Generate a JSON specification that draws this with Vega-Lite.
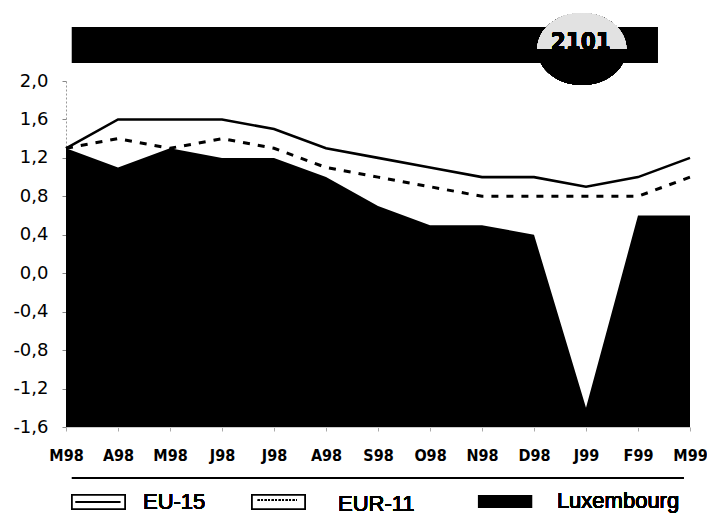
{
  "$schema": "https://vega.github.io/schema/vega-lite/v6.json",
  "width": 624,
  "height": 346,
  "autosize": "none",
  "padding": {"left": 66, "top": 81, "right": 17, "bottom": 90},
  "background": "white",
  "config": {
    "view": {"stroke": null},
    "font": "Liberation Sans",
    "axis": {"grid": false, "title": null, "labelFlush": false, "labelOverlap": false}
  },
  "data": {
    "values": [
      {"idx": 0, "month": "M98", "eu15": 1.3, "eur11": 1.3, "lux": 1.3},
      {"idx": 1, "month": "A98", "eu15": 1.6, "eur11": 1.4, "lux": 1.1},
      {"idx": 2, "month": "M98", "eu15": 1.6, "eur11": 1.3, "lux": 1.3},
      {"idx": 3, "month": "J98", "eu15": 1.6, "eur11": 1.4, "lux": 1.2},
      {"idx": 4, "month": "J98", "eu15": 1.5, "eur11": 1.3, "lux": 1.2},
      {"idx": 5, "month": "A98", "eu15": 1.3, "eur11": 1.1, "lux": 1.0},
      {"idx": 6, "month": "S98", "eu15": 1.2, "eur11": 1.0, "lux": 0.7},
      {"idx": 7, "month": "O98", "eu15": 1.1, "eur11": 0.9, "lux": 0.5},
      {"idx": 8, "month": "N98", "eu15": 1.0, "eur11": 0.8, "lux": 0.5},
      {"idx": 9, "month": "D98", "eu15": 1.0, "eur11": 0.8, "lux": 0.4},
      {"idx": 10, "month": "J99", "eu15": 0.9, "eur11": 0.8, "lux": -1.4},
      {"idx": 11, "month": "F99", "eu15": 1.0, "eur11": 0.8, "lux": 0.6},
      {"idx": 12, "month": "M99", "eu15": 1.2, "eur11": 1.0, "lux": 0.6}
    ]
  },
  "layer": [
    {
      "mark": {"type": "area", "color": "black", "opacity": 1, "interpolate": "linear"},
      "encoding": {
        "x": {
          "field": "idx", "type": "quantitative",
          "scale": {"domain": [0, 12], "nice": false, "zero": false},
          "axis": {
            "values": [0, 1, 2, 3, 4, 5, 6, 7, 8, 9, 10, 11, 12],
            "tickCount": 30,
            "labelExpr": "['M98','A98','M98','J98','J98','A98','S98','O98','N98','D98','J99','F99','M99'][datum.value]",
            "labelFont": "DejaVu Sans Condensed, Liberation Sans",
            "labelFontWeight": "bold",
            "labelFontSize": 16,
            "labelColor": "black",
            "labelPadding": 16,
            "labelOverlap": false,
            "labelFlush": false,
            "tickSize": 4,
            "tickColor": "#aaaaaa",
            "domainColor": "#cccccc",
            "domainWidth": 1
          }
        },
        "y": {
          "field": "lux", "type": "quantitative",
          "scale": {"domain": [-1.6, 2.0], "nice": false, "zero": false},
          "axis": {
            "values": [-1.6, -1.2, -0.8, -0.4, 0, 0.4, 0.8, 1.2, 1.6, 2.0],
            "tickCount": 30,
            "labelExpr": "(datum.value < -0.001 ? '-' : '') + replace(format(abs(datum.value), '.1f'), '.', ',')",
            "labelFont": "DejaVu Sans",
            "labelFontSize": 18,
            "labelColor": "black",
            "labelPadding": 14,
            "labelOverlap": false,
            "labelFlush": false,
            "tickSize": 4,
            "tickColor": "#888888",
            "domainColor": "#999999",
            "domainDash": [2, 2],
            "domainWidth": 1
          }
        },
        "y2": {"datum": -1.6}
      }
    },
    {
      "mark": {"type": "line", "color": "black", "strokeWidth": 2.6},
      "encoding": {
        "x": {"field": "idx", "type": "quantitative", "scale": {"domain": [0, 12], "nice": false, "zero": false}},
        "y": {"field": "eu15", "type": "quantitative", "scale": {"domain": [-1.6, 2.0], "nice": false, "zero": false}}
      }
    },
    {
      "mark": {"type": "line", "color": "black", "strokeWidth": 3, "strokeDash": [7, 8], "strokeCap": "butt"},
      "encoding": {
        "x": {"field": "idx", "type": "quantitative", "scale": {"domain": [0, 12], "nice": false, "zero": false}},
        "y": {"field": "eur11", "type": "quantitative", "scale": {"domain": [-1.6, 2.0], "nice": false, "zero": false}}
      }
    },
    {
      "mark": {"type": "rect", "color": "black"},
      "encoding": {
        "x": {"datum": 0.115, "type": "quantitative"},
        "x2": {"datum": 11.37},
        "y": {"datum": 2.562, "type": "quantitative"},
        "y2": {"datum": 2.187}
      }
    },
    {
      "mark": {"type": "point", "shape": "M-1,0A1,0.81 0 1,0 1,0A1,0.81 0 1,0 -1,0Z", "size": 7921, "filled": true, "color": "black", "opacity": 1, "strokeWidth": 0},
      "encoding": {
        "x": {"datum": 9.92, "type": "quantitative"},
        "y": {"datum": 2.333, "type": "quantitative"}
      }
    },
    {
      "mark": {"type": "point", "shape": "M-1,0A1,0.81 0 0,1 1,0Z", "size": 7921, "filled": true, "color": "#e2e2e2", "opacity": 1, "strokeWidth": 0},
      "encoding": {
        "x": {"datum": 9.92, "type": "quantitative"},
        "y": {"datum": 2.333, "type": "quantitative"}
      }
    },
    {
      "mark": {"type": "text", "text": "2101", "font": "DejaVu Sans Condensed, Liberation Sans", "fontWeight": "bold", "fontSize": 24, "color": "black", "align": "center", "baseline": "middle"},
      "encoding": {
        "x": {"datum": 9.9, "type": "quantitative"},
        "y": {"datum": 2.395, "type": "quantitative"}
      }
    },
    {
      "mark": {"type": "rule", "color": "black", "strokeWidth": 2},
      "encoding": {
        "x": {"datum": 0.115, "type": "quantitative"},
        "x2": {"datum": 11.87},
        "y": {"datum": -2.131, "type": "quantitative"}
      }
    },
    {
      "mark": {"type": "rect", "fill": "white", "stroke": "black", "strokeWidth": 1.6},
      "encoding": {
        "x": {"datum": 0.115, "type": "quantitative"},
        "x2": {"datum": 1.135},
        "y": {"datum": -2.308, "type": "quantitative"},
        "y2": {"datum": -2.453}
      }
    },
    {
      "mark": {"type": "rule", "color": "black", "strokeWidth": 1.6},
      "encoding": {
        "x": {"datum": 0.19, "type": "quantitative"},
        "x2": {"datum": 1.04},
        "y": {"datum": -2.38, "type": "quantitative"}
      }
    },
    {
      "mark": {"type": "rect", "fill": "white", "stroke": "black", "strokeWidth": 1.6},
      "encoding": {
        "x": {"datum": 3.577, "type": "quantitative"},
        "x2": {"datum": 4.596},
        "y": {"datum": -2.308, "type": "quantitative"},
        "y2": {"datum": -2.453}
      }
    },
    {
      "mark": {"type": "rule", "color": "black", "strokeWidth": 1.2, "strokeDash": [1.5, 2]},
      "encoding": {
        "x": {"datum": 3.69, "type": "quantitative"},
        "x2": {"datum": 4.44},
        "y": {"datum": -2.36, "type": "quantitative"}
      }
    },
    {
      "mark": {"type": "rect", "color": "black"},
      "encoding": {
        "x": {"datum": 7.923, "type": "quantitative"},
        "x2": {"datum": 8.962},
        "y": {"datum": -2.308, "type": "quantitative"},
        "y2": {"datum": -2.443}
      }
    },
    {
      "mark": {"type": "text", "text": "EU-15", "font": "Liberation Sans", "fontWeight": "normal", "fontSize": 22, "color": "black", "align": "left", "baseline": "alphabetic"},
      "encoding": {
        "x": {"datum": 1.48, "type": "quantitative"},
        "y": {"datum": -2.453, "type": "quantitative"}
      }
    },
    {
      "mark": {"type": "text", "text": "EUR-11", "font": "Liberation Sans", "fontWeight": "normal", "fontSize": 22, "color": "black", "align": "left", "baseline": "alphabetic"},
      "encoding": {
        "x": {"datum": 5.23, "type": "quantitative"},
        "y": {"datum": -2.474, "type": "quantitative"}
      }
    },
    {
      "mark": {"type": "text", "text": "Luxembourg", "font": "Liberation Sans", "fontWeight": "normal", "fontSize": 22, "color": "black", "align": "left", "baseline": "alphabetic"},
      "encoding": {
        "x": {"datum": 9.44, "type": "quantitative"},
        "y": {"datum": -2.443, "type": "quantitative"}
      }
    }
  ]
}
